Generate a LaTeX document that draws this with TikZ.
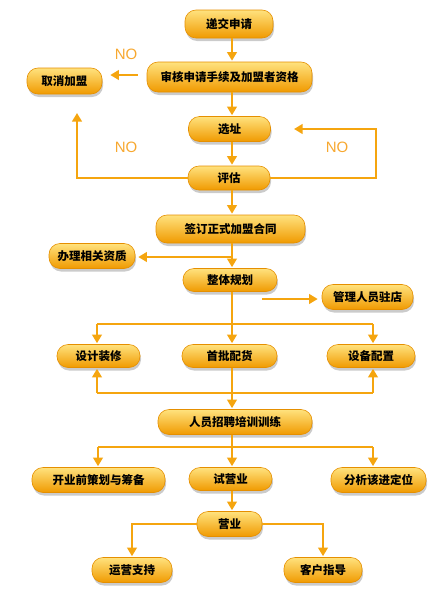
\documentclass[tikz,border=0pt]{standalone}
\usepackage{fontspec}
\newfontfamily\cjk{Noto Sans CJK SC}
\newfontfamily\nofont{Liberation Sans}
\usetikzlibrary{arrows.meta,shadows,calc}
\definecolor{boxtop}{HTML}{FFE27E}
\definecolor{boxmid}{HTML}{FCC01E}
\definecolor{boxbot}{HTML}{F09A00}
\definecolor{boxedge}{HTML}{E58F00}
\definecolor{arr}{HTML}{F5A50F}
\definecolor{nocol}{HTML}{F7A830}
\tikzset{
  box/.style={rectangle, rounded corners=11pt, draw=boxedge, line width=0.6pt,
    top color=boxtop, middle color=boxmid, bottom color=boxbot,
    font=\cjk\bfseries\fontsize{11.5}{13}\selectfont, text=black, inner sep=0pt,
    drop shadow={shadow xshift=1pt, shadow yshift=-3pt, fill=black!45, opacity=0.45}},
  conn/.style={draw=arr, line width=2.6pt},
  arrow/.style={conn, -{Triangle[width=9.5pt,length=8.5pt]}, shorten >=1pt},
  nolabel/.style={font=\nofont\fontsize{15}{17}\selectfont, text=nocol}
}
\begin{document}
\begin{tikzpicture}[x=1pt,y=-1pt]
\useasboundingbox (0,0) rectangle (441,600);
\coordinate (sp) at (232,0);
% nodes
\node[box, minimum width=88pt, minimum height=28pt] (n1) at (229,24) {递交申请};
\node[box, minimum width=165pt, minimum height=30pt] (n2) at (229.5,77) {审核申请手续及加盟者资格};
\node[box, minimum width=75pt, minimum height=26pt] (n3) at (64.5,81) {取消加盟};
\node[box, minimum width=82pt, minimum height=25pt] (n4) at (229.5,129) {选址};
\node[box, minimum width=82pt, minimum height=24pt] (n5) at (229,178) {评估};
\node[box, minimum width=149pt, minimum height=28pt] (n6) at (230.5,229) {签订正式加盟合同};
\node[box, minimum width=86pt, minimum height=25pt] (n7) at (92,256) {办理相关资质};
\node[box, minimum width=94pt, minimum height=23pt] (n8) at (230,280) {整体规划};
\node[box, minimum width=91pt, minimum height=25pt] (n9) at (367.5,297) {管理人员驻店};
\node[box, minimum width=83pt, minimum height=23pt] (n10) at (98.5,356) {设计装修};
\node[box, minimum width=95pt, minimum height=23pt] (n11) at (229.5,356) {首批配货};
\node[box, minimum width=88pt, minimum height=23pt] (n12) at (371,356) {设备配置};
\node[box, minimum width=154pt, minimum height=25pt] (n13) at (235,422) {人员招聘培训训练};
\node[box, minimum width=133pt, minimum height=25pt] (n14) at (98.5,480) {开业前策划与筹备};
\node[box, minimum width=83pt, minimum height=23pt] (n15) at (230.5,479) {试营业};
\node[box, minimum width=95pt, minimum height=25pt] (n16) at (378.5,480) {分析该进定位};
\node[box, minimum width=65pt, minimum height=25pt] (n17) at (229.5,524) {营业};
\node[box, minimum width=80pt, minimum height=25pt] (n18) at (132,570) {运营支持};
\node[box, minimum width=78pt, minimum height=25pt] (n19) at (323,570) {客户指导};
% NO labels
\node[nolabel] (no1) at (126,54) {NO};
\node[nolabel] (no2) at (126,147) {NO};
\node[nolabel] (no3) at (337,147) {NO};
% coordinates
\coordinate (lL) at (77,178);
\coordinate (lLt) at (77,112);
\coordinate (lR) at (376,178);
\coordinate (lRt) at (376,129);
\coordinate (lRe) at (293,129);
\coordinate (j1) at (232,257);
\coordinate (j2) at (232,299);
\coordinate (b1L) at (97,324);
\coordinate (b1M) at (232,324);
\coordinate (b1R) at (373,324);
\coordinate (b2L) at (97,393);
\coordinate (b2R) at (373,393);
\coordinate (b3L) at (98,447);
\coordinate (b3M) at (232,447);
\coordinate (b3R) at (373,447);
% connectors
\draw[arrow] (n1.south -| sp) -- (n2.north -| sp);
\draw[arrow] (n2.south -| sp) -- (n4.north -| sp);
\draw[arrow] (n4.south -| sp) -- (n5.north -| sp);
\draw[arrow] (n5.south -| sp) -- (n6.north -| sp);
\draw[arrow, shorten <=9pt, shorten >=8pt] ($(n2.west)+(0,-2)$) -- ($(n2.west -| n3.east)+(0,-2)$);
\draw[arrow] (n5.west) -- (lL) -- (lLt);
\draw[arrow] (n5.east) -- (lR) -- (lRt) -- (lRe);
\draw[arrow] (n6.south -| sp) -- (n8.north -| sp);
\draw[arrow, shorten >=3pt] (j1) -- (j1 -| n7.east);
\draw[conn] (n8.south -| sp) -- (b1M);
\draw[arrow, shorten <=30pt, shorten >=4pt] (j2) -- (j2 -| n9.west);
\draw[conn] (b1L) -- (b1R);
\draw[arrow] (b1L) -- (b1L |- n10.north);
\draw[arrow] (b1M) -- (b1M |- n11.north);
\draw[arrow] (b1R) -- (b1R |- n12.north);
\draw[conn] (b2L) -- (b2R);
\draw[arrow] (b2L) -- (b2L |- n10.south);
\draw[arrow] (b2R) -- (b2R |- n12.south);
\draw[arrow] (n11.south -| sp) -- (n13.north -| sp);
\draw[conn] (n13.south -| sp) -- (b3M);
\draw[conn] (b3L) -- (b3R);
\draw[arrow] (b3L) -- (b3L |- n14.north);
\draw[arrow] (b3M) -- (b3M |- n15.north);
\draw[arrow] (b3R) -- (b3R |- n16.north);
\draw[arrow] (n15.south -| sp) -- (n17.north -| sp);
\draw[arrow] (n17.west) -| (n18.north);
\draw[arrow] (n17.east) -| (n19.north);
\end{tikzpicture}
\end{document}
